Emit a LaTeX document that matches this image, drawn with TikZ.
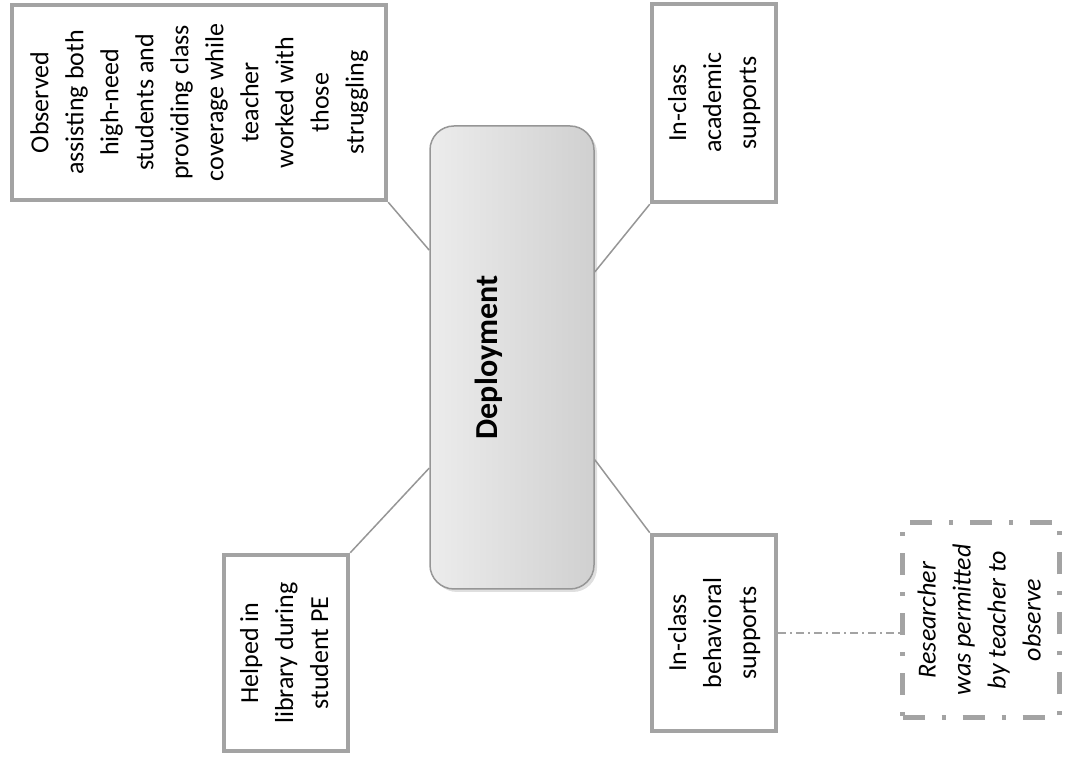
\documentclass[tikz,border=0pt]{standalone}
\usepackage{fontspec}
\setmainfont{Carlito}
\usetikzlibrary{calc,shadows}
\definecolor{boxgray}{RGB}{163,163,163}
\definecolor{linegray}{RGB}{150,150,150}
\definecolor{hubleft}{RGB}{236,236,236}
\definecolor{hubright}{RGB}{208,208,208}
\newcommand{\vtext}[1]{\rotatebox{90}{\begin{tabular}{@{}c@{}}#1\end{tabular}}}
\begin{document}
\begin{tikzpicture}[x=1bp,y=1bp,
  leaf/.style={draw=boxgray, line width=4.5bp, fill=white, inner sep=0pt,
    font={\fontsize{26bp}{35bp}\selectfont}},
  hub/.style={draw=linegray, line width=1.5bp, rounded corners=24bp,
    left color=hubleft, right color=hubright, inner sep=0pt,
    drop shadow={opacity=0.25, shadow xshift=3bp, shadow yshift=-3bp},
    font={\fontsize{32bp}{38bp}\selectfont\bfseries}},
  note/.style={draw=boxgray, line width=5bp, inner sep=0pt,
    dash pattern=on 22bp off 17bp on 4bp off 17bp,
    font={\fontsize{26bp}{35bp}\selectfont\itshape}},
  link/.style={draw=linegray, line width=1.5bp},
  notelink/.style={draw=boxgray, line width=1.2bp,
    dash pattern=on 8bp off 4bp on 2bp off 4bp}
]
\useasboundingbox (0,0) rectangle (1077,759);

\node[hub, minimum width=164bp, minimum height=463bp] (hub) at (512,401.5)
  {\rotatebox{90}{Deployment}\kern46bp};

\node[leaf, minimum width=374bp, minimum height=195bp] (obs) at (199,656.5)
  {\vtext{Observed\\assisting both\\high-need\\students and\\providing class\\coverage while\\teacher\\worked with\\those\\struggling}};

\node[leaf, minimum width=124bp, minimum height=198bp] (acad) at (714,656)
  {\vtext{In-class\\academic\\supports}};

\node[leaf, minimum width=124bp, minimum height=196bp] (behav) at (714,126)
  {\vtext{In-class\\behavioral\\supports}};

\node[leaf, minimum width=124bp, minimum height=196bp] (lib) at (286,106)
  {\vtext{Helped in\\library during\\student PE}};

\node[note, minimum width=157bp, minimum height=195bp] (note) at (981,139)
  {\vtext{Researcher\\was permitted\\by teacher to\\observe}};

\draw[link] (obs.south east) -- ($(hub.north west)!0.269!(hub.south west)$);
\draw[link] (acad.south west) -- ($(hub.north east)!0.316!(hub.south east)$);
\draw[link] (behav.north west) -- ($(hub.north east)!0.72!(hub.south east)$);
\draw[link] (lib.north east) -- ($(hub.north west)!0.738!(hub.south west)$);
\draw[notelink] (behav.east) -- (behav.east -| note.west);
\end{tikzpicture}
\end{document}
